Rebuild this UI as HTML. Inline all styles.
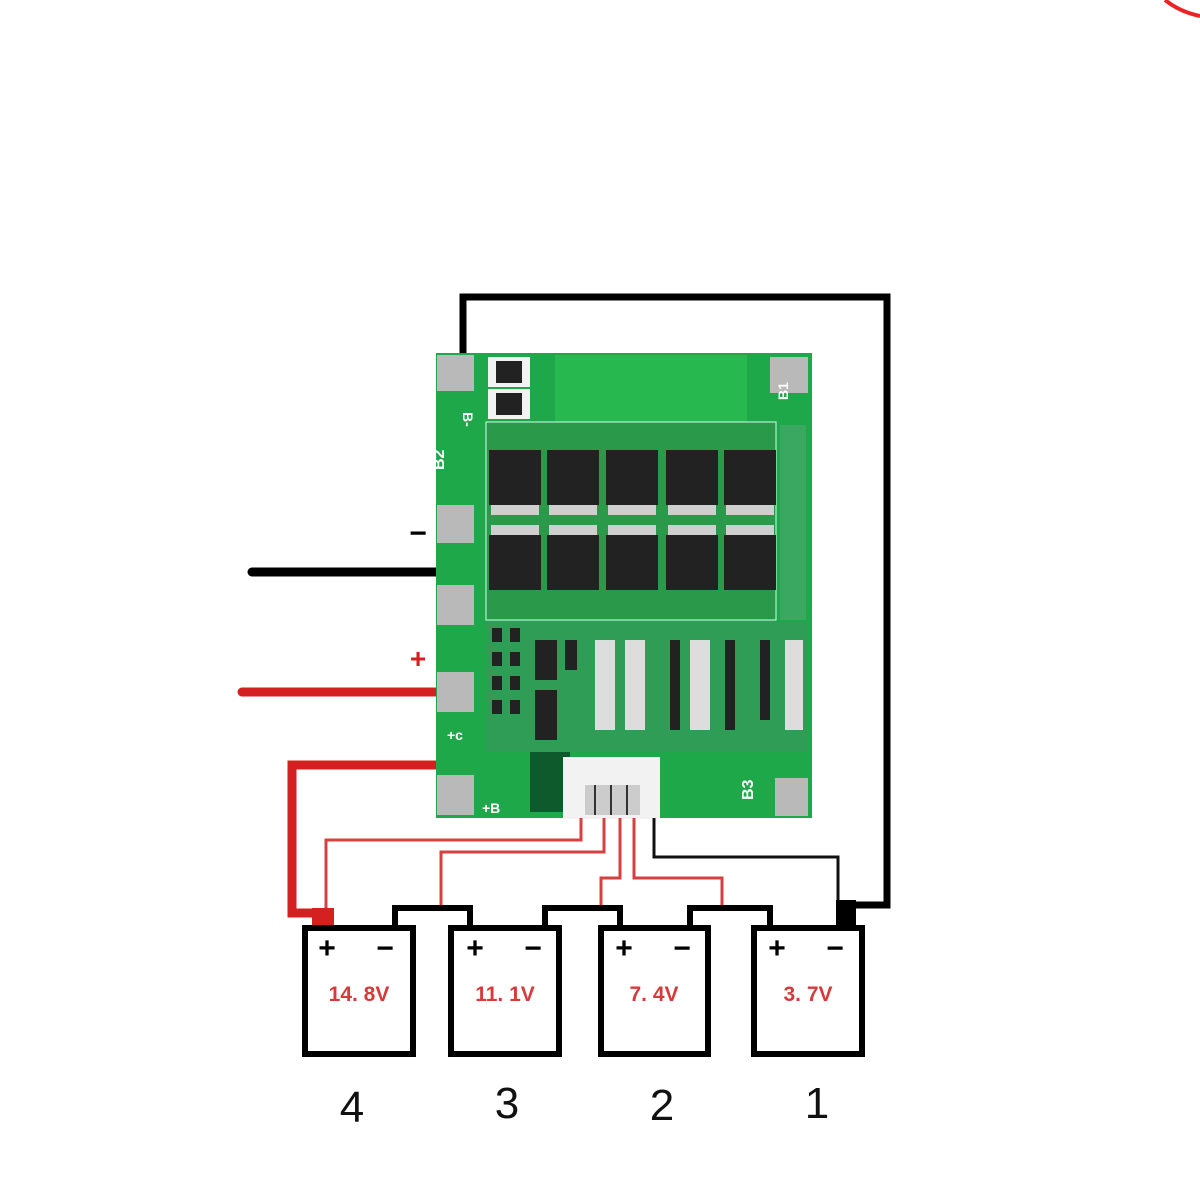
<!DOCTYPE html>
<html><head><meta charset="utf-8"><style>
html,body{margin:0;padding:0;background:#fff;width:1200px;height:1200px;overflow:hidden}
svg{display:block}
</style></head><body>
<svg width="1200" height="1200" viewBox="0 0 1200 1200" xmlns="http://www.w3.org/2000/svg" font-family="Liberation Sans, sans-serif">
<rect width="1200" height="1200" fill="#fff"/>
<path d="M1165 0 Q1180 12 1200 16" stroke="#e22" stroke-width="4" fill="none"/>
<!-- black loop wire -->
<path d="M463 360 V297 H887 V905 H845 V915" stroke="#000" stroke-width="7" fill="none"/>
<!-- left wires -->
<line x1="252" y1="572" x2="436" y2="572" stroke="#000" stroke-width="9" stroke-linecap="round"/>
<line x1="242" y1="692" x2="436" y2="692" stroke="#d42020" stroke-width="9" stroke-linecap="round"/>
<path d="M436 765 H292 V913 H330" stroke="#d42020" stroke-width="9" fill="none"/>
<text x="418" y="543" font-size="30" font-weight="bold" text-anchor="middle">−</text>
<text x="418" y="668" font-size="28" font-weight="bold" fill="#d42020" text-anchor="middle">+</text>
<!-- PCB -->
<rect x="436" y="353" width="376" height="465" fill="#1fa84a"/>
<rect x="555" y="355" width="192" height="70" fill="#27b850"/>
<g fill="#b9b9b9">
<rect x="437" y="355" width="37" height="36"/><rect x="437" y="505" width="37" height="38"/>
<rect x="437" y="585" width="37" height="40"/><rect x="437" y="672" width="37" height="40"/>
<rect x="437" y="775" width="37" height="40"/><rect x="770" y="357" width="38" height="36"/>
<rect x="775" y="778" width="33" height="38"/>
</g>
<rect x="488" y="357" width="42" height="30" fill="#f2f2f2"/><rect x="496" y="361" width="26" height="22" fill="#222"/>
<rect x="488" y="389" width="42" height="30" fill="#f2f2f2"/><rect x="496" y="393" width="26" height="22" fill="#222"/>
<!-- MOSFET rows -->
<g>
<rect x="486" y="422" width="290" height="198" fill="#2a9a4a" stroke="#cfe" stroke-width="1"/>
<g fill="#222">
<rect x="489" y="450" width="52" height="55"/><rect x="547" y="450" width="52" height="55"/><rect x="606" y="450" width="52" height="55"/><rect x="666" y="450" width="52" height="55"/><rect x="724" y="450" width="52" height="55"/>
<rect x="489" y="535" width="52" height="55"/><rect x="547" y="535" width="52" height="55"/><rect x="606" y="535" width="52" height="55"/><rect x="666" y="535" width="52" height="55"/><rect x="724" y="535" width="52" height="55"/>
</g>
<g fill="#cfcfcf">
<rect x="491" y="505" width="48" height="10"/><rect x="549" y="505" width="48" height="10"/><rect x="608" y="505" width="48" height="10"/><rect x="668" y="505" width="48" height="10"/><rect x="726" y="505" width="48" height="10"/>
<rect x="491" y="525" width="48" height="10"/><rect x="549" y="525" width="48" height="10"/><rect x="608" y="525" width="48" height="10"/><rect x="668" y="525" width="48" height="10"/><rect x="726" y="525" width="48" height="10"/>
</g>
</g>
<rect x="780" y="425" width="26" height="195" fill="#3aa860"/>
<!-- lower component area -->
<rect x="486" y="622" width="322" height="130" fill="#2f9d55"/>
<g fill="#222">
<rect x="492" y="628" width="10" height="14"/><rect x="510" y="628" width="10" height="14"/>
<rect x="492" y="652" width="10" height="14"/><rect x="510" y="652" width="10" height="14"/>
<rect x="492" y="676" width="10" height="14"/><rect x="510" y="676" width="10" height="14"/>
<rect x="492" y="700" width="10" height="14"/><rect x="510" y="700" width="10" height="14"/>
<rect x="535" y="640" width="22" height="40"/><rect x="535" y="690" width="22" height="50"/>
<rect x="565" y="640" width="12" height="30"/><rect x="670" y="640" width="10" height="90"/>
<rect x="725" y="640" width="10" height="90"/><rect x="760" y="640" width="10" height="80"/>
</g>
<g fill="#ddd">
<rect x="595" y="640" width="20" height="90"/><rect x="625" y="640" width="20" height="90"/><rect x="690" y="640" width="20" height="90"/><rect x="785" y="640" width="18" height="90"/>
</g>
<rect x="530" y="752" width="40" height="60" fill="#0f5a2c"/>
<!-- connector -->
<rect x="563" y="757" width="97" height="62" fill="#f2f2f2"/>
<rect x="585" y="785" width="55" height="30" fill="#ccc"/>
<g stroke="#333" stroke-width="2"><line x1="595" y1="785" x2="595" y2="815"/><line x1="611" y1="785" x2="611" y2="815"/><line x1="627" y1="785" x2="627" y2="815"/></g>
<g fill="#fff" font-size="14" font-weight="bold">
<text transform="translate(463,412) rotate(90)">B-</text>
<text transform="translate(444,470) rotate(-90)" font-size="16">B2</text>
<text transform="translate(788,400) rotate(-90)">B1</text>
<text transform="translate(753,800) rotate(-90)" font-size="16">B3</text>
<text x="482" y="813">+B</text>
<text x="447" y="740">+c</text>
</g>
<!-- thin red wires -->
<g stroke="#d84040" stroke-width="3" fill="none">
<path d="M581 818 V840 H326 V910"/>
<path d="M604 818 V852 H441 V910"/>
<path d="M620 818 V878 H601 V910"/>
<path d="M634 818 V878 H722 V910"/>
</g>
<path d="M654 818 V857 H838 V905" stroke="#111" stroke-width="3" fill="none"/>
<!-- battery interconnects -->
<g stroke="#000" stroke-width="6" fill="none">
<path d="M395 925 V908 H470 V925"/>
<path d="M545 925 V908 H620 V925"/>
<path d="M690 925 V908 H770 V925"/>
</g>
<rect x="312" y="908" width="22" height="18" fill="#d42020"/>
<rect x="836" y="900" width="20" height="26" fill="#000"/>
<!-- batteries -->
<g fill="#fff" stroke="#000" stroke-width="6">
<rect x="305" y="928" width="108" height="126"/>
<rect x="451" y="928" width="108" height="126"/>
<rect x="601" y="928" width="107" height="126"/>
<rect x="754" y="928" width="108" height="126"/>
</g>
<g font-size="30" font-weight="bold" text-anchor="middle">
<text x="327" y="958">+</text><text x="385" y="958">−</text>
<text x="475" y="958">+</text><text x="533" y="958">−</text>
<text x="624" y="958">+</text><text x="682" y="958">−</text>
<text x="777" y="958">+</text><text x="835" y="958">−</text>
</g>
<g font-size="21" font-weight="bold" fill="#d63a3a" text-anchor="middle">
<text x="359" y="1001">14. 8V</text>
<text x="505" y="1001">11. 1V</text>
<text x="654" y="1001">7. 4V</text>
<text x="808" y="1001">3. 7V</text>
</g>
<g font-size="44" text-anchor="middle" fill="#111">
<text x="352" y="1122">4</text><text x="507" y="1118">3</text><text x="662" y="1120">2</text><text x="817" y="1118">1</text>
</g>
</svg>
</body></html>
